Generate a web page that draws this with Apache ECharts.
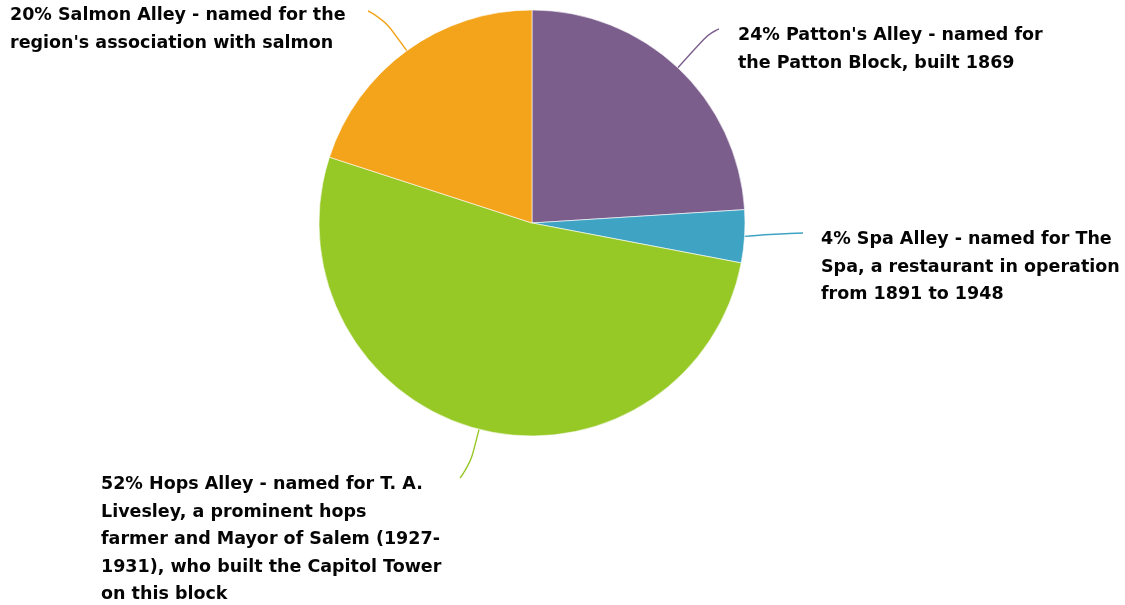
<!DOCTYPE html>
<html>
<head>
<meta charset="utf-8">
<script src="https://cdn.jsdelivr.net/npm/echarts@6/dist/echarts.min.js"></script>
<style>
  html, body {margin: 0; padding: 0; background: #fff;}
  #main {width: 1125px; height: 605px;}
</style>
</head>
<body>
<div id="main"></div>
<script>
// alley names, share (%) and naming notes, clockwise from 12 o'clock
var alleys = ["Patton's Alley", "Spa Alley", "Hops Alley", "Salmon Alley"];
var shares = [24, 4, 52, 20];
var notes = [
    "named for\nthe Patton Block, built 1869",
    "named for The\nSpa, a restaurant in operation\nfrom 1891 to 1948",
    "named for T. A.\nLivesley, a prominent hops\nfarmer and Mayor of Salem (1927-\n1931), who built the Capitol Tower\non this block",
    "named for the\nregion's association with salmon"
];
var colors = ['#7b5e8c', '#3fa3c3', '#96c826', '#f4a41b'];

// where each label block sits and how its leader line bends
var spots = [
    {x: 738, y: 22, mid: [711, 31], end: [719, 29]},
    {x: 821, y: 226, mid: [775, 233], end: [803, 233]},
    {x: 101, y: 471, mid: [469, 469], end: [460, 478]},
    {x: 10, y: 2, mid: [381, 15], end: [368, 11]}
];

var myChart = echarts.init(document.getElementById('main'));

var data = [];
for (var i = 0; i < alleys.length; i++) {
    data.push({
        name: alleys[i],
        value: shares[i],
        itemStyle: {color: colors[i]},
        labelLine: {lineStyle: {color: colors[i]}}
    });
}

var option = {
    backgroundColor: '#fff',
    animation: false,
    series: [{
        type: 'pie',
        center: [532, 223],
        radius: 213,
        startAngle: 90,
        clockwise: true,
        avoidLabelOverlap: false,
        itemStyle: {borderColor: '#fff', borderWidth: 0.6},
        label: {
            show: true,
            color: '#050505',
            fontFamily: 'DejaVu Sans',
            fontWeight: 'bold',
            fontSize: 17.5,
            lineHeight: 27.5,
            formatter: function (p) {
                return p.value + '% ' + p.name + ' - ' + notes[p.dataIndex];
            }
        },
        labelLine: {show: true, smooth: 0.8, lineStyle: {width: 1.4}},
        labelLayout: function (params) {
            var s = spots[params.dataIndex];
            var pts = params.labelLinePoints;
            var start = pts && pts[0] ? pts[0] : s.mid;
            return {
                x: s.x,
                y: s.y,
                align: 'left',
                verticalAlign: 'top',
                labelLinePoints: [start, s.mid, s.end]
            };
        },
        data: data
    }]
};

myChart.setOption(option);
</script>
</body>
</html>
